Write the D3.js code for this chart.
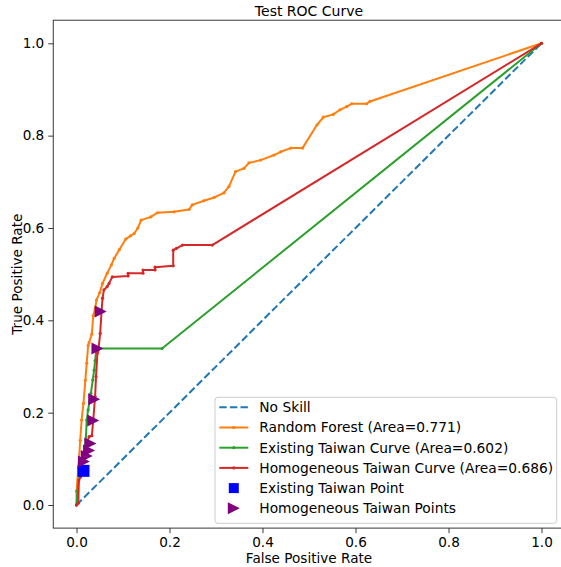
<!DOCTYPE html>
<html>
<head>
<meta charset="utf-8">
<script src="https://cdnjs.cloudflare.com/ajax/libs/d3/7.8.5/d3.min.js"></script>
<style>
  body { margin: 0; background: #fff; }
  text { font-family: "DejaVu Sans", sans-serif; fill: #000; }
</style>
</head>
<body>
<div id="chart"></div>
<script>
// ROC curves
var noSkillFpr = [0, 1]
var noSkillTpr = [0, 1]

var rfFpr = [0, 0, 0.004, 0.008, 0.011, 0.015, 0.019, 0.022, 0.025, 0.027, 0.033, 0.036, 0.040, 0.043, 0.050, 0.056, 0.066, 0.075, 0.081, 0.092, 0.106, 0.116, 0.124, 0.132, 0.139, 0.160, 0.174, 0.210, 0.242, 0.249, 0.274, 0.296, 0.317, 0.328, 0.342, 0.360, 0.371, 0.396, 0.425, 0.439, 0.461, 0.486, 0.517, 0.531, 0.552, 0.567, 0.581, 0.592, 0.624, 0.631, 1]
var rfTpr = [0, 0.03, 0.08, 0.14, 0.184, 0.22, 0.27, 0.307, 0.345, 0.352, 0.37, 0.41, 0.425, 0.444, 0.46, 0.48, 0.502, 0.52, 0.534, 0.553, 0.576, 0.583, 0.588, 0.600, 0.617, 0.624, 0.633, 0.635, 0.640, 0.650, 0.659, 0.666, 0.676, 0.690, 0.722, 0.729, 0.741, 0.747, 0.758, 0.765, 0.773, 0.773, 0.823, 0.840, 0.846, 0.856, 0.863, 0.869, 0.869, 0.874, 1]

var existFpr = [0, 0.002, 0.0075, 0.016, 0.020, 0.022, 0.025, 0.031, 0.035, 0.038, 0.040, 0.043, 0.184, 1]
var existTpr = [0, 0.03, 0.069, 0.112, 0.141, 0.184, 0.206, 0.242, 0.271, 0.292, 0.313, 0.339, 0.339, 1]

var homogFpr = [0, 0.004, 0.005, 0.009, 0.016, 0.027, 0.033, 0.036, 0.040, 0.042, 0.045, 0.047, 0.051, 0.054, 0.056, 0.059, 0.066, 0.070, 0.077, 0.111, 0.111, 0.143, 0.143, 0.169, 0.169, 0.208, 0.208, 0.215, 0.228, 0.292, 1]
var homogTpr = [0, 0.004, 0.054, 0.061, 0.112, 0.148, 0.150, 0.184, 0.235, 0.278, 0.329, 0.336, 0.372, 0.422, 0.448, 0.466, 0.473, 0.480, 0.494, 0.496, 0.502, 0.502, 0.509, 0.509, 0.515, 0.518, 0.552, 0.556, 0.563, 0.563, 1]

var existPointFpr = [0.015]
var existPointTpr = [0.074]

var homogPointFpr = [0.052, 0.045, 0.038, 0.036, 0.030, 0.027, 0.022, 0.016]
var homogPointTpr = [0.419, 0.339, 0.229, 0.183, 0.133, 0.118, 0.106, 0.094]

var ticks = [0, 0.2, 0.4, 0.6, 0.8, 1.0]

var legendLabels = ['No Skill', 'Random Forest (Area=0.771)', 'Existing Taiwan Curve (Area=0.602)',
  'Homogeneous Taiwan Curve (Area=0.686)', 'Existing Taiwan Point', 'Homogeneous Taiwan Points']

;(function () {

  var margin = { top: 20.2, left: 53.25 }
  var width = 511.5,
      height = 507.9

  var fs = 13.6

  var svg = d3.select('#chart').append('svg')
    .attr('width', 561)
    .attr('height', 567)

  var g = svg.append('g')
    .attr('transform', 'translate(' + margin.left + ',' + margin.top + ')')

  var x = d3.scaleLinear().domain([-0.05, 1.05]).range([0, width])
  var y = d3.scaleLinear().domain([-0.05, 1.05]).range([height, 0])

  function pairs(xs, ys) {
    return xs.map(function (v, i) { return [v, ys[i]] })
  }

  var line = d3.line()
    .x(function (d) { return x(d[0]) })
    .y(function (d) { return y(d[1]) })

  // no skill diagonal
  g.append('path')
    .datum(pairs(noSkillFpr, noSkillTpr))
    .attr('d', line)
    .attr('fill', 'none')
    .attr('stroke', '#1f77b4')
    .attr('stroke-width', 2)
    .attr('stroke-dasharray', '7.4,3.2')

  var curves = [
    { pts: pairs(rfFpr, rfTpr), color: '#ff7f0e' },
    { pts: pairs(existFpr, existTpr), color: '#2ca02c' },
    { pts: pairs(homogFpr, homogTpr), color: '#d62728' }
  ]

  curves.forEach(function (c) {
    g.append('path')
      .datum(c.pts)
      .attr('d', line)
      .attr('fill', 'none')
      .attr('stroke', c.color)
      .attr('stroke-width', 2)
      .attr('stroke-linejoin', 'round')

    g.append('g').selectAll('circle')
      .data(c.pts)
      .enter().append('circle')
      .attr('cx', function (d) { return x(d[0]) })
      .attr('cy', function (d) { return y(d[1]) })
      .attr('r', 1.6)
      .attr('fill', c.color)
  })

  // existing taiwan point
  g.selectAll('.sq')
    .data(pairs(existPointFpr, existPointTpr))
    .enter().append('rect')
    .attr('class', 'sq')
    .attr('x', function (d) { return x(d[0]) - 6 })
    .attr('y', function (d) { return y(d[1]) - 6 })
    .attr('width', 12)
    .attr('height', 12)
    .attr('fill', '#0000ff')

  var tri = 'M6,0L-6,-6L-6,6Z'

  g.selectAll('.tri')
    .data(pairs(homogPointFpr, homogPointTpr))
    .enter().append('path')
    .attr('class', 'tri')
    .attr('d', tri)
    .attr('transform', function (d) { return 'translate(' + x(d[0]) + ',' + y(d[1]) + ')' })
    .attr('fill', '#800080')

  // axes
  var xAxis = d3.axisBottom(x).tickValues(ticks).tickSize(5).tickPadding(4)
    .tickFormat(d3.format('.1f'))
  var yAxis = d3.axisLeft(y).tickValues(ticks).tickSize(5).tickPadding(4)
    .tickFormat(d3.format('.1f'))

  g.append('g')
    .attr('class', 'axis x-axis')
    .attr('transform', 'translate(0,' + height + ')')
    .call(xAxis)

  g.append('g')
    .attr('class', 'axis y-axis')
    .call(yAxis)

  g.selectAll('.axis .domain').remove()
  g.selectAll('.axis text')
    .style('font-family', '"DejaVu Sans", sans-serif')
    .style('font-size', fs + 'px')
    .attr('fill', '#000')
  g.selectAll('.axis line').attr('stroke', '#222').attr('stroke-width', 0.9)

  // spines
  g.append('rect')
    .attr('x', 0).attr('y', 0)
    .attr('width', width).attr('height', height)
    .attr('fill', 'none')
    .attr('stroke', '#222')
    .attr('stroke-width', 0.9)

  // titles
  svg.append('text')
    .attr('x', margin.left + width / 2)
    .attr('y', 16)
    .attr('text-anchor', 'middle')
    .style('font-size', '14px')
    .text('Test ROC Curve')

  svg.append('text')
    .attr('x', margin.left + width / 2)
    .attr('y', 563)
    .attr('text-anchor', 'middle')
    .style('font-size', fs + 'px')
    .text('False Positive Rate')

  svg.append('text')
    .attr('transform', 'translate(22,' + (margin.top + height / 2) + ') rotate(-90)')
    .attr('text-anchor', 'middle')
    .style('font-size', fs + 'px')
    .text('True Positive Rate')

  // legend
  var lg = svg.append('g').attr('transform', 'translate(215,397.3)')

  lg.append('rect')
    .attr('width', 341.7)
    .attr('height', 126)
    .attr('rx', 3)
    .attr('fill', '#fff')
    .attr('fill-opacity', 0.8)
    .attr('stroke', '#cccccc')
    .attr('stroke-width', 1)

  var rowY = function (i) { return 10 + i * 20.2 }
  var hx0 = 4.3, hx1 = 33.3, hc = (hx0 + hx1) / 2

  lg.append('line')
    .attr('x1', hx0).attr('x2', hx1)
    .attr('y1', rowY(0)).attr('y2', rowY(0))
    .attr('stroke', '#1f77b4').attr('stroke-width', 2)
    .attr('stroke-dasharray', '7.4,3.2')

  curves.forEach(function (c, i) {
    lg.append('line')
      .attr('x1', hx0).attr('x2', hx1)
      .attr('y1', rowY(i + 1)).attr('y2', rowY(i + 1))
      .attr('stroke', c.color).attr('stroke-width', 2)
    lg.append('circle')
      .attr('cx', hc).attr('cy', rowY(i + 1))
      .attr('r', 1.6).attr('fill', c.color)
  })

  lg.append('rect')
    .attr('x', hc - 5).attr('y', rowY(4) - 5)
    .attr('width', 10).attr('height', 10)
    .attr('fill', '#0000ff')

  lg.append('path')
    .attr('d', tri)
    .attr('transform', 'translate(' + hc + ',' + rowY(5) + ')')
    .attr('fill', '#800080')

  lg.selectAll('.lab')
    .data(legendLabels)
    .enter().append('text')
    .attr('class', 'lab')
    .attr('x', 44.3)
    .attr('y', function (d, i) { return rowY(i) })
    .attr('dy', '0.36em')
    .style('font-size', '13.8px')
    .text(function (d) { return d })

})()
</script>
</body>
</html>
